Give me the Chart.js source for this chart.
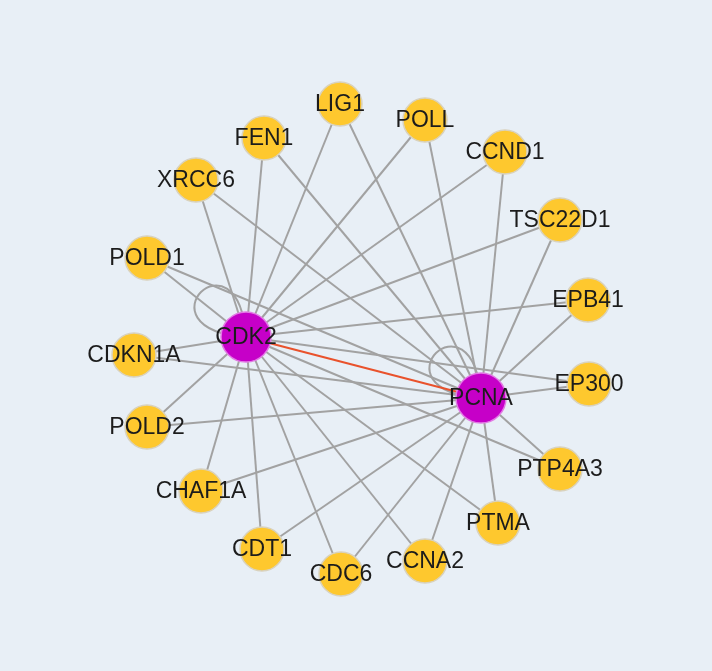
<!DOCTYPE html>
<html>
<head>
<meta charset="utf-8">
<script src="https://cdn.jsdelivr.net/npm/chart.js@4/dist/chart.umd.min.js"></script>
<style>
    html, body { margin: 0; padding: 0; background: #e8eff6; }
    #wrap { width: 712px; height: 671px; }
</style>
</head>
<body>
<div id="wrap"><canvas id="network" width="712" height="671"></canvas></div>
<script>
// nodes (layout position)
const nodeNames = ['CDK2', 'PCNA', 'LIG1', 'POLL', 'CCND1', 'TSC22D1', 'EPB41', 'EP300', 'PTP4A3', 'PTMA',
    'CCNA2', 'CDC6', 'CDT1', 'CHAF1A', 'POLD2', 'CDKN1A', 'POLD1', 'XRCC6', 'FEN1'];
const nodeX = [246, 481, 340, 425, 505, 560, 588, 589, 560, 498, 425, 341, 262, 201, 147, 134, 147, 196, 264];
const nodeY = [337, 398, 104, 120, 152, 220, 300, 384, 469, 523, 561, 574, 549, 491, 427, 355, 258, 180, 138];
const hubNodes = ['CDK2', 'PCNA'];

// edges: every partner links to both hubs, plus the hub-hub link
const partners = nodeNames.filter(n => !hubNodes.includes(n));
const edgeFrom = [];
const edgeTo = [];
partners.forEach(p => {
    edgeFrom.push('CDK2'); edgeTo.push(p);
    edgeFrom.push('PCNA'); edgeTo.push(p);
});
const hubEdge = ['CDK2', 'PCNA'];
const loopNodes = ['CDK2', 'PCNA'];

const pos = name => {
    const i = nodeNames.indexOf(name);
    return { x: nodeX[i], y: nodeY[i] };
};

const edgeDatasets = edgeFrom.map((from, i) => ({
    type: 'scatter',
    data: [pos(from), pos(edgeTo[i])],
    showLine: true,
    borderColor: '#a2a2a2',
    borderWidth: 2,
    pointRadius: 0,
    order: 3
}));

edgeDatasets.push({
    type: 'scatter',
    data: [pos(hubEdge[0]), pos(hubEdge[1])],
    showLine: true,
    borderColor: '#e9522c',
    borderWidth: 2,
    pointRadius: 0,
    order: 2
});

const isHub = nodeNames.map(n => hubNodes.includes(n));

const nodeDataset = {
    type: 'scatter',
    data: nodeNames.map((n, i) => ({ x: nodeX[i], y: nodeY[i] })),
    pointRadius: isHub.map(h => h ? 25 : 22),
    pointBackgroundColor: isHub.map(h => h ? '#c600c8' : '#fec82e'),
    pointBorderColor: isHub.map(h => h ? '#e27ae4' : '#d9d2bd'),
    pointBorderWidth: 1.5,
    order: 0
};

// self loops drawn under the nodes
const loopPlugin = {
    id: 'selfLoops',
    beforeDatasetsDraw(chart) {
        const { ctx, scales } = chart;
        ctx.save();
        ctx.strokeStyle = '#a2a2a2';
        ctx.lineWidth = 2;
        loopNodes.forEach(n => {
            const p = pos(n);
            const px = scales.x.getPixelForValue(p.x);
            const py = scales.y.getPixelForValue(p.y);
            ctx.beginPath();
            ctx.moveTo(px, py);
            ctx.bezierCurveTo(px - 112, py - 8, px - 8, py - 112, px, py);
            ctx.stroke();
        });
        ctx.restore();
    }
};

const labelPlugin = {
    id: 'nodeLabels',
    afterDatasetsDraw(chart) {
        const { ctx, scales } = chart;
        ctx.save();
        ctx.font = '23px "Liberation Sans", Arial, sans-serif';
        ctx.fillStyle = '#1c1c1c';
        ctx.textAlign = 'center';
        ctx.textBaseline = 'middle';
        nodeNames.forEach((n, i) => {
            ctx.fillText(n, scales.x.getPixelForValue(nodeX[i]), scales.y.getPixelForValue(nodeY[i]) + 1);
        });
        ctx.restore();
    }
};

new Chart(document.getElementById('network'), {
    type: 'scatter',
    data: { datasets: [...edgeDatasets, nodeDataset] },
    options: {
        responsive: false,
        animation: false,
        events: [],
        layout: { padding: 0, autoPadding: false },
        plugins: { legend: { display: false }, tooltip: { enabled: false } },
        scales: {
            x: { type: 'linear', min: 0, max: 712, display: false },
            y: { type: 'linear', min: 0, max: 671, reverse: true, display: false }
        }
    },
    plugins: [loopPlugin, labelPlugin]
});
</script>
</body>
</html>
